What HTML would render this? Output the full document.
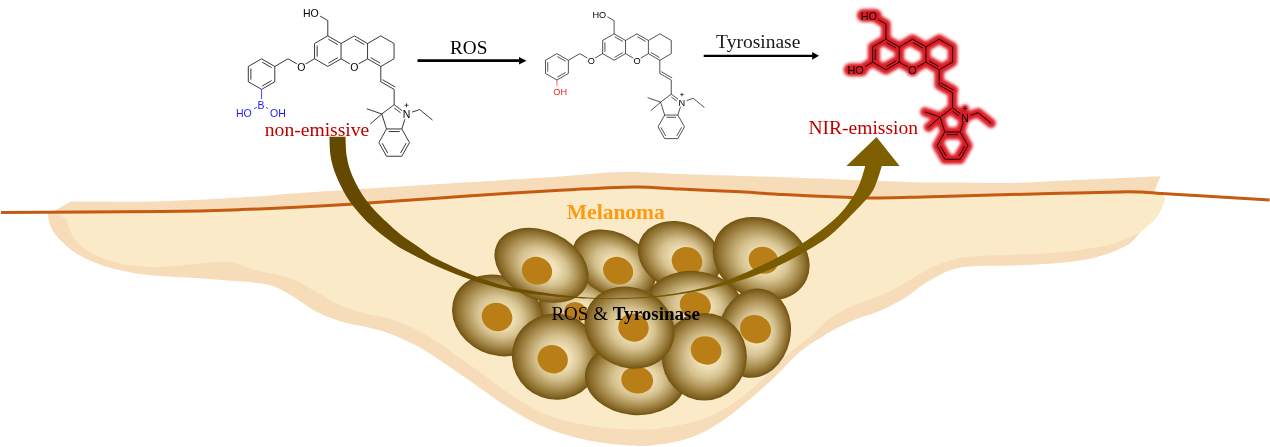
<!DOCTYPE html>
<html><head><meta charset="utf-8"><title>Melanoma probe scheme</title>
<style>html,body{margin:0;padding:0;background:#fff;overflow:hidden}svg{display:block;will-change:transform}</style></head>
<body>
<svg width="1270" height="447" viewBox="0 0 1270 447" font-family="Liberation Sans, sans-serif">
<defs>
<radialGradient id="cg" cx="50%" cy="50%" r="50%" fx="56%" fy="50%">
<stop offset="0" stop-color="#f6ebc9"/><stop offset="0.25" stop-color="#efe0b6"/><stop offset="0.5" stop-color="#d6c290"/><stop offset="0.75" stop-color="#a98e50"/><stop offset="0.9" stop-color="#8a6c2c"/><stop offset="1" stop-color="#71530f"/>
</radialGradient>
<linearGradient id="ag" gradientUnits="userSpaceOnUse" x1="330" y1="0" x2="900" y2="0"><stop offset="0" stop-color="#644800"/><stop offset="0.45" stop-color="#6f5300"/><stop offset="1" stop-color="#7f6000"/></linearGradient>
<filter id="glow" x="-10%" y="-10%" width="120%" height="120%"><feGaussianBlur stdDeviation="1.5"/></filter>
</defs>
<rect width="1270" height="447" fill="#fff"/>
<path d="M55.3 210.3 L70.8 201.6 C86.2 201.5 131.5 202.1 163.0 201.2 C194.5 200.3 237.2 197.6 260.0 196.2 C282.8 194.8 265.5 195.3 300.0 193.0 C334.5 190.7 423.7 185.1 467.0 182.3 C510.3 179.6 534.1 178.2 560.0 176.5 C585.9 174.8 602.4 172.5 622.4 172.1 C642.4 171.7 653.1 173.1 680.0 174.0 C706.9 174.9 751.7 176.2 784.0 177.3 C816.3 178.4 850.9 179.9 874.0 180.8 C897.1 181.7 908.3 182.2 922.6 182.5 C936.9 182.8 945.6 182.4 960.0 182.5 C974.4 182.6 988.5 183.4 1009.0 183.0 C1029.5 182.6 1064.5 180.6 1083.0 179.8 C1101.5 179.0 1107.1 178.6 1120.0 178.0 C1132.9 177.4 1153.8 176.5 1160.5 176.2 L1154.4 191 C1156.0 192.0 1162.8 194.8 1164.2 197.0 C1165.6 199.2 1164.2 201.1 1163.0 204.4 C1161.8 207.7 1159.6 213.1 1156.9 216.8 C1154.2 220.5 1149.5 224.3 1147.0 226.6 C1144.5 228.8 1144.5 227.8 1142.0 230.3 C1139.5 232.8 1135.9 238.3 1132.2 241.4 C1128.5 244.5 1126.2 246.0 1120.0 248.7 C1113.8 251.4 1105.6 255.0 1095.3 257.4 C1085.0 259.8 1072.8 261.6 1058.4 263.0 C1044.1 264.4 1022.8 265.0 1009.2 265.5 C995.6 266.0 986.3 265.3 976.8 266.0 C967.3 266.7 960.4 266.9 952.2 269.5 C944.0 272.1 935.8 276.9 927.6 281.8 C919.4 286.7 911.2 294.1 903.0 299.0 C894.8 303.9 886.6 307.9 878.4 311.4 C870.2 314.9 862.0 316.5 853.8 320.0 C845.6 323.5 834.5 329.5 829.2 332.3 C823.9 335.1 826.9 333.8 822.0 337.0 C817.1 340.2 807.8 345.2 800.0 351.8 C792.2 358.4 783.5 368.6 775.3 376.4 C767.1 384.2 758.9 391.5 750.7 398.5 C742.5 405.5 734.3 412.4 726.1 418.2 C717.9 423.9 709.7 429.1 701.5 433.0 C693.3 436.9 685.1 439.6 676.9 441.6 C668.7 443.7 658.4 444.6 652.3 445.3 C646.1 446.0 644.2 446.0 640.0 446.0 C635.8 446.0 633.1 445.8 626.8 445.3 C620.5 444.8 610.4 444.0 602.2 442.8 C594.0 441.6 585.8 439.9 577.6 437.9 C569.4 435.8 561.2 433.6 553.0 430.5 C544.8 427.4 536.6 423.7 528.4 419.4 C520.2 415.1 512.0 410.0 503.8 404.7 C495.6 399.4 487.4 393.1 479.2 387.4 C471.0 381.6 462.5 375.6 454.6 370.2 C446.7 364.8 438.7 359.2 432.0 355.0 C425.3 350.8 421.6 348.2 414.6 344.7 C407.6 341.1 398.2 336.7 390.0 333.7 C381.8 330.7 373.5 328.9 365.3 326.8 C357.1 324.8 348.9 323.9 340.7 321.4 C332.5 318.8 324.3 315.8 316.1 311.5 C307.9 307.2 298.9 299.8 291.5 295.5 C284.1 291.2 277.9 287.8 271.8 285.7 C265.7 283.6 260.4 283.5 254.6 282.7 C248.8 281.9 244.0 281.7 236.9 281.1 C229.8 280.5 220.4 279.8 212.2 279.2 C204.0 278.6 195.8 277.9 187.6 277.4 C179.4 276.9 171.2 276.8 163.0 276.2 C154.8 275.6 146.6 274.9 138.4 273.7 C130.2 272.5 122.0 271.1 113.8 268.8 C105.6 266.6 96.2 263.3 89.2 260.2 C82.2 257.1 77.3 254.3 72.0 250.4 C66.7 246.5 60.9 241.1 57.2 236.8 C53.5 232.5 51.3 228.2 49.8 224.5 C48.3 220.8 48.3 216.8 48.1 214.7 C47.9 212.6 48.4 212.4 48.4 212.0 Z" fill="#f7dcba"/>
<path d="M55.3 212.4 L67 219.6 C67.4 221.2 67.8 225.7 69.5 229.4 C71.2 233.1 73.6 238.1 76.9 241.8 C80.2 245.5 84.3 248.7 89.2 251.6 C94.1 254.5 100.2 257.4 106.4 259.5 C112.6 261.6 118.7 263.2 126.1 264.4 C133.5 265.6 142.5 266.6 150.7 266.9 C158.9 267.1 167.1 266.5 175.3 265.9 C183.5 265.3 191.8 264.1 200.0 263.4 C208.2 262.6 220.4 261.7 224.5 261.4 C226.6 261.7 231.9 262.0 236.9 263.4 C241.9 264.8 247.6 267.7 254.6 269.7 C261.6 271.7 272.2 273.4 279.2 275.3 C286.2 277.2 290.2 278.1 296.4 280.8 C302.5 283.6 308.7 287.7 316.1 291.8 C323.5 295.9 332.5 301.8 340.7 305.4 C348.9 309.0 357.1 311.2 365.3 313.5 C373.5 315.8 381.8 316.4 390.0 318.9 C398.2 321.4 406.4 324.7 414.6 328.7 C422.8 332.7 432.5 338.6 439.2 342.8 C445.9 347.1 447.9 349.4 454.6 354.2 C461.3 359.0 471.0 365.4 479.2 371.4 C487.4 377.3 495.6 384.1 503.8 389.9 C512.0 395.6 520.2 401.4 528.4 405.9 C536.6 410.4 544.8 414.1 553.0 417.0 C561.2 419.9 569.4 421.8 577.6 423.6 C585.8 425.4 594.0 426.7 602.2 427.6 C610.4 428.6 618.8 429.0 626.8 429.3 C634.8 429.6 643.7 429.8 650.0 429.5 C656.3 429.2 658.1 428.7 664.6 427.6 C671.1 426.5 681.0 425.3 689.2 423.1 C697.4 420.9 705.6 418.4 713.8 414.5 C722.0 410.6 730.2 405.6 738.4 399.7 C746.6 393.8 754.8 386.4 763.0 378.8 C771.2 371.2 779.8 361.2 787.6 354.2 C795.4 347.2 802.9 342.9 809.8 337.0 C816.7 331.1 821.9 324.0 829.2 318.7 C836.5 313.4 845.6 308.9 853.8 305.2 C862.0 301.5 870.2 300.1 878.4 296.6 C886.6 293.1 894.8 288.8 903.0 284.3 C911.2 279.8 919.4 273.6 927.6 269.5 C935.8 265.4 944.0 261.9 952.2 259.7 C960.4 257.4 967.3 256.8 976.8 256.0 C986.3 255.2 995.6 255.5 1009.2 254.9 C1022.8 254.3 1044.1 253.6 1058.4 252.4 C1072.8 251.2 1085.0 249.3 1095.3 247.5 C1105.6 245.7 1113.0 243.7 1120.0 241.4 C1127.0 239.1 1132.7 236.0 1137.2 233.5 C1141.7 231.0 1143.7 229.4 1147.0 226.6 C1150.3 223.8 1154.2 220.5 1156.9 216.8 C1159.6 213.1 1161.8 207.7 1163.0 204.4 C1164.2 201.1 1165.6 199.2 1164.2 197.0 C1162.8 194.8 1156.0 192.0 1154.4 191.0 L1141.0 192.1 L1120.0 191.9 L1060.0 193.3 L992.0 195.0 L922.6 197.0 L874.0 198.1 L846.0 197.3 L784.0 194.6 L740.0 191.8 L680.0 189.0 L637.5 187.1 L600.0 188.2 L560.0 190.2 L467.7 196.0 L400.0 200.8 L320.0 206.0 L241.6 209.6 L161.0 211.5 Z" fill="#fbeac8"/>
<path d="M1 212.4 C27.7 212.2 120.9 212.0 161.0 211.5 C201.1 211.0 215.1 210.5 241.6 209.6 C268.1 208.7 293.6 207.5 320.0 206.0 C346.4 204.5 375.4 202.5 400.0 200.8 C424.6 199.1 441.0 197.8 467.7 196.0 C494.4 194.2 538.0 191.5 560.0 190.2 C582.0 188.9 587.1 188.7 600.0 188.2 C612.9 187.7 624.2 187.0 637.5 187.1 C650.8 187.2 662.9 188.2 680.0 189.0 C697.1 189.8 722.7 190.9 740.0 191.8 C757.3 192.7 766.3 193.7 784.0 194.6 C801.7 195.5 831.0 196.7 846.0 197.3 C861.0 197.9 861.2 198.2 874.0 198.1 C886.8 198.0 902.9 197.5 922.6 197.0 C942.3 196.5 969.1 195.6 992.0 195.0 C1014.9 194.4 1038.7 193.8 1060.0 193.3 C1081.3 192.8 1106.5 192.1 1120.0 191.9 C1133.5 191.7 1134.8 191.9 1141.0 192.1 C1147.2 192.3 1146.5 192.5 1157.0 193.2 C1167.5 193.8 1185.2 194.9 1204.0 196.0 C1222.8 197.1 1258.7 199.3 1269.6 200.0" fill="none" stroke="#c55a11" stroke-width="3"/>
<g><ellipse cx="580" cy="310" rx="42" ry="34" transform="rotate(20 580 310)" fill="url(#cg)"/><ellipse cx="575.5" cy="312" rx="11.5" ry="10" transform="rotate(10 575.5 312)" fill="#b97f16"/></g>
<g><ellipse cx="498" cy="315.4" rx="47.3" ry="39.5" transform="rotate(25 498 315.4)" fill="url(#cg)"/><ellipse cx="497" cy="317" rx="15.5" ry="14" transform="rotate(20 497 317)" fill="#b97f16"/></g>
<g><ellipse cx="614" cy="264.5" rx="45" ry="31" transform="rotate(30 614 264.5)" fill="url(#cg)"/><ellipse cx="618.1" cy="270.7" rx="15.3" ry="13.5" transform="rotate(25 618.1 270.7)" fill="#b97f16"/></g>
<g><ellipse cx="541.5" cy="265.3" rx="49.4" ry="34.4" transform="rotate(25 541.5 265.3)" fill="url(#cg)"/><ellipse cx="537" cy="270.8" rx="15.3" ry="13.7" transform="rotate(20 537 270.8)" fill="#b97f16"/></g>
<g><ellipse cx="679.8" cy="256.2" rx="43" ry="33.8" transform="rotate(22 679.8 256.2)" fill="url(#cg)"/><ellipse cx="687" cy="261.2" rx="15.5" ry="14" transform="rotate(20 687 261.2)" fill="#b97f16"/></g>
<g><ellipse cx="694.5" cy="306" rx="48.5" ry="35" transform="rotate(6 694.5 306)" fill="url(#cg)"/><ellipse cx="695.3" cy="305.3" rx="15.7" ry="13.3" transform="rotate(15 695.3 305.3)" fill="#b97f16"/></g>
<g><ellipse cx="761.2" cy="258.8" rx="50" ry="40" transform="rotate(24.5 761.2 258.8)" fill="url(#cg)"/><ellipse cx="763.5" cy="260.3" rx="15" ry="13.3" transform="rotate(20 763.5 260.3)" fill="#b97f16"/></g>
<g><ellipse cx="555.8" cy="356.6" rx="44" ry="43" transform="rotate(20 555.8 356.6)" fill="url(#cg)"/><ellipse cx="552.7" cy="359.2" rx="15.3" ry="14" transform="rotate(20 552.7 359.2)" fill="#b97f16"/></g>
<g><ellipse cx="635.3" cy="378.3" rx="50.5" ry="36.8" transform="rotate(5 635.3 378.3)" fill="url(#cg)"/><ellipse cx="637.2" cy="380" rx="16" ry="13.5" transform="rotate(10 637.2 380)" fill="#b97f16"/></g>
<g><ellipse cx="754.3" cy="333.2" rx="36.3" ry="45" transform="rotate(12 754.3 333.2)" fill="url(#cg)"/><ellipse cx="755.5" cy="329.2" rx="15.7" ry="14" transform="rotate(20 755.5 329.2)" fill="#b97f16"/></g>
<g><ellipse cx="704.3" cy="356.7" rx="42.6" ry="43.8" transform="rotate(0 704.3 356.7)" fill="url(#cg)"/><ellipse cx="706.1" cy="350.4" rx="15.5" ry="14" transform="rotate(20 706.1 350.4)" fill="#b97f16"/></g>
<g><ellipse cx="629.5" cy="327.6" rx="46" ry="40" transform="rotate(25 629.5 327.6)" fill="url(#cg)"/><ellipse cx="633.5" cy="327.6" rx="15.3" ry="14" transform="rotate(15 633.5 327.6)" fill="#b97f16"/></g>
<path d="M345.5 136.7 C345.7 140.0 345.7 150.3 346.8 156.8 C347.9 163.3 349.5 169.1 352.2 175.6 C354.9 182.1 359.4 190.2 363.0 195.8 C366.6 201.4 369.7 204.7 373.7 209.2 C377.7 213.7 382.6 218.4 387.1 222.6 C391.6 226.8 395.1 230.3 400.5 234.5 C405.9 238.7 413.4 243.5 419.3 247.5 C425.2 251.5 427.1 254.1 435.8 258.6 C444.5 263.1 459.7 270.1 471.6 274.7 C483.5 279.3 495.5 283.4 507.4 286.4 C519.3 289.4 534.4 291.2 543.2 292.6 C552.0 294.0 550.9 294.1 560.0 295.0 C569.1 295.9 585.2 297.5 597.8 297.9 C610.4 298.3 623.0 298.2 635.6 297.5 C648.2 296.8 660.8 295.7 673.4 293.7 C686.0 291.7 700.1 288.8 711.2 285.7 C722.3 282.6 731.5 278.4 740.0 275.0 C748.5 271.6 754.9 268.6 762.4 265.0 C769.9 261.4 777.2 257.8 784.7 253.7 C792.2 249.6 799.6 245.3 807.1 240.3 C814.6 235.3 823.2 228.9 829.5 223.5 C835.8 218.1 840.6 213.5 845.1 207.9 C849.6 202.3 854.0 195.2 856.8 190.0 C859.6 184.8 860.6 181.0 862.0 177.0 C863.4 173.0 864.7 167.8 865.2 166.0 L846.4 166 L876.5 136.9 L899.6 166 L881.8 166 C881.0 168.5 878.9 176.2 877.0 181.0 C875.1 185.8 874.5 188.9 870.3 194.5 C866.1 200.1 858.6 207.7 851.8 214.6 C845.0 221.5 837.0 229.9 829.5 235.9 C822.0 241.9 814.6 245.9 807.1 250.4 C799.6 254.9 792.2 259.0 784.7 262.7 C777.2 266.4 769.9 269.8 762.4 272.8 C754.9 275.8 748.5 278.0 740.0 280.6 C731.5 283.2 722.3 286.2 711.2 288.6 C700.1 291.0 686.0 293.5 673.4 295.2 C660.8 296.9 648.2 298.0 635.6 298.6 C623.0 299.2 610.4 299.2 597.8 298.9 C585.2 298.6 569.1 297.5 560.0 296.9 C550.9 296.3 552.0 296.4 543.2 295.3 C534.4 294.2 519.3 292.6 507.4 290.0 C495.5 287.4 483.5 284.0 471.6 280.0 C459.7 276.0 447.2 270.9 435.8 265.8 C424.4 260.7 411.3 254.0 403.2 249.5 C395.1 245.0 392.0 242.3 387.1 238.7 C382.2 235.1 378.2 232.0 373.7 228.0 C369.2 224.0 364.8 219.8 360.3 214.6 C355.8 209.4 350.8 203.6 346.8 197.1 C342.8 190.6 338.8 182.3 336.1 175.6 C333.4 168.9 331.8 163.3 330.7 156.8 C329.6 150.3 329.6 140.0 329.4 136.7 Z" fill="url(#ag)"/>
<g font-family="Liberation Serif, serif">
<text x="566.8" y="218.6" font-size="21" font-weight="bold" fill="#fd9a12" textLength="98" lengthAdjust="spacingAndGlyphs">Melanoma</text>
<text x="551.4" y="319.6" font-size="19.4" fill="#000" textLength="148.6" lengthAdjust="spacingAndGlyphs">ROS &amp; <tspan font-weight="bold">Tyrosinase</tspan></text>
<text x="264.8" y="135.5" font-size="19.4" fill="#c00000" textLength="104.5" lengthAdjust="spacingAndGlyphs">non-emissive</text>
<text x="808.4" y="134" font-size="19.2" fill="#c00000" textLength="109.6" lengthAdjust="spacingAndGlyphs">NIR-emission</text>
<text x="450" y="54.3" font-size="19.2" fill="#000" textLength="37.4" lengthAdjust="spacingAndGlyphs">ROS</text>
<text x="716.1" y="48" font-size="18.9" fill="#1a1a1a" textLength="84.2" lengthAdjust="spacingAndGlyphs">Tyrosinase</text>
</g>
<path d="M417.5 60.7H520" stroke="#000" stroke-width="2.8"/><path d="M526.5 60.7L519 57V64.4Z" fill="#000"/>
<path d="M703.7 55.8H813" stroke="#000" stroke-width="2.2"/><path d="M819 55.8L812.2 52V59.7Z" fill="#000"/>
<path fill="none" stroke="#000" stroke-width="0.78" stroke-linecap="butt" d="M327.80 35.85L341.05 43.50 M328.35 39.17L337.89 44.68 M341.05 43.50L341.05 58.80 M341.05 58.80L327.80 66.45 M337.89 57.62L328.35 63.13 M327.80 66.45L314.55 58.80 M314.55 58.80L314.55 43.50 M317.15 56.66L317.15 45.64 M314.55 43.50L327.80 35.85 M341.05 43.50L354.30 35.85 M354.30 35.85L367.55 43.50 M354.85 39.17L364.40 44.68 M367.55 43.50L367.55 58.80 M367.55 58.80L358.67 63.93 M349.93 63.93L341.05 58.80 M367.55 43.50L380.80 35.85 M380.80 35.85L394.05 43.50 M394.05 43.50L394.05 58.80 M394.05 58.80L380.80 66.45 M380.80 66.45L367.55 58.80 M380.25 63.13L370.71 57.62 M327.80 35.85L327.80 20.55 M327.80 20.55L320.11 16.11 M380.80 66.45L380.80 81.75 M380.80 81.75L394.15 89.40 M382.36 79.65L395.18 86.99 M394.15 89.40L394.15 104.70 M394.15 104.70L402.12 110.66 M394.31 108.07L400.56 112.74 M404.87 119.21L401.80 128.95 M401.80 128.95L386.50 128.95 M399.66 131.55L388.64 131.55 M386.50 128.95L381.77 113.96 M381.77 113.96L394.15 104.70 M401.80 128.95L409.45 142.60 M409.45 142.60L401.80 156.24 M406.13 143.19L400.58 153.10 M401.80 156.24L386.50 156.24 M386.50 156.24L378.85 142.60 M387.72 153.10L382.17 143.19 M378.85 142.60L386.50 128.95 M381.77 113.96L366.78 108.76 M381.77 113.96L370.30 124.05 M412.04 112.11L419.69 109.55 M419.69 109.55L432.54 120.11 M314.55 58.80L305.67 63.93 M296.93 63.93L288.05 58.80 M288.05 58.80L274.80 66.45 M274.80 66.45L261.55 58.80 M271.64 67.63L262.10 62.12 M261.55 58.80L248.30 66.45 M248.30 66.45L248.30 81.75 M250.90 68.59L250.90 79.61 M248.30 81.75L261.55 89.40 M261.55 89.40L274.80 81.75 M262.10 86.08L271.64 80.57 M274.80 81.75L274.80 66.45"/>
<path fill="none" stroke="#1a1aff" stroke-width="0.78" stroke-linecap="butt" d="M261.55 89.40L261.55 99.19 M256.97 107.17L253.88 108.85 M266.02 107.35L268.13 108.61"/>
<text x="354.30" y="70.93" font-size="10.5" text-anchor="middle" fill="#000">O</text>
<text x="406.53" y="118.44" font-size="10.5" text-anchor="middle" fill="#000">N</text>
<text x="318.64" y="17.38" font-size="10.5" text-anchor="end" fill="#000">HO</text>
<text x="301.30" y="70.93" font-size="10.5" text-anchor="middle" fill="#000">O</text>
<text x="260.95" y="109.18" font-size="10.5" text-anchor="middle" fill="#1a1aff">B</text>
<text x="251.78" y="116.68" font-size="10.5" text-anchor="end" fill="#1a1aff">HO</text>
<text x="270.09" y="116.68" font-size="10.5" text-anchor="start" fill="#1a1aff">OH</text>
<path stroke="#000" stroke-width="0.7" d="M404.54 105.24L408.52 105.24M406.53 103.25L406.53 107.23"/>
<path fill="none" stroke="#000" stroke-width="0.68" stroke-linecap="butt" d="M614.10 33.85L625.53 40.45 M614.58 36.72L622.81 41.47 M625.53 40.45L625.53 53.65 M625.53 53.65L614.10 60.25 M622.81 52.63L614.58 57.38 M614.10 60.25L602.67 53.65 M602.67 53.65L602.67 40.45 M604.91 51.80L604.91 42.30 M602.67 40.45L614.10 33.85 M625.53 40.45L636.96 33.85 M636.96 33.85L648.39 40.45 M637.44 36.72L645.67 41.47 M648.39 40.45L648.39 53.65 M648.39 53.65L640.74 58.07 M633.19 58.07L625.53 53.65 M648.39 40.45L659.83 33.85 M659.83 33.85L671.26 40.45 M671.26 40.45L671.26 53.65 M671.26 53.65L659.83 60.25 M659.83 60.25L648.39 53.65 M659.35 57.38L651.12 52.63 M614.10 33.85L614.10 20.65 M614.10 20.65L607.47 16.82 M659.83 60.25L659.83 73.45 M659.83 73.45L671.26 80.05 M661.18 71.64L672.15 77.97 M671.26 80.05L671.26 94.15 M671.26 94.15L678.13 99.29 M671.39 97.05L676.79 101.09 M680.51 106.67L677.86 115.07 M677.86 115.07L664.66 115.07 M676.01 117.31L666.51 117.31 M664.66 115.07L660.58 102.14 M660.58 102.14L671.26 94.15 M677.86 115.07L684.46 126.84 M684.46 126.84L677.86 138.62 M681.60 127.36L676.80 135.91 M677.86 138.62L664.66 138.62 M664.66 138.62L658.06 126.84 M665.71 135.91L660.92 127.36 M658.06 126.84L664.66 115.07 M660.58 102.14L647.64 97.65 M660.58 102.14L650.68 110.84 M686.69 100.55L693.29 98.33 M693.29 98.33L704.38 107.44 M602.67 53.65L595.01 58.07 M587.46 58.07L579.81 53.65 M579.81 53.65L568.37 60.25 M568.37 60.25L556.94 53.65 M565.65 61.27L557.42 56.52 M556.94 53.65L545.51 60.25 M545.51 60.25L545.51 73.45 M547.75 62.10L547.75 71.60 M545.51 73.45L556.94 80.05 M556.94 80.05L568.37 73.45 M557.42 77.18L565.65 72.43 M568.37 73.45L568.37 60.25"/>
<path fill="none" stroke="#ff1a1a" stroke-width="0.68" stroke-linecap="butt" d="M556.94 80.05L556.94 85.99"/>
<text x="636.96" y="63.76" font-size="9.2" text-anchor="middle" fill="#000">O</text>
<text x="681.94" y="105.65" font-size="9.2" text-anchor="middle" fill="#000">N</text>
<text x="606.26" y="17.56" font-size="9.2" text-anchor="end" fill="#000">HO</text>
<text x="591.24" y="63.76" font-size="9.2" text-anchor="middle" fill="#000">O</text>
<text x="553.35" y="95.05" font-size="9.2" text-anchor="start" fill="#ff1a1a">OH</text>
<path stroke="#000" stroke-width="0.7" d="M680.22 94.62L683.65 94.62M681.94 92.90L681.94 96.33"/>
<g transform="translate(-8.1,0) scale(1.0085,1)"><g filter="url(#glow)" stroke="#db1c28" fill="none" stroke-linecap="round" stroke-linejoin="round">
<path stroke-width="9.6" d="M886.50 39.25L899.71 46.88 M887.05 42.56L896.56 48.05 M899.71 46.88L899.71 62.12 M899.71 62.12L886.50 69.75 M896.56 60.95L887.05 66.44 M886.50 69.75L873.29 62.12 M873.29 62.12L873.29 46.88 M875.89 59.99L875.89 49.01 M873.29 46.88L886.50 39.25 M899.71 46.88L912.91 39.25 M912.91 39.25L926.12 46.88 M913.47 42.56L922.98 48.05 M926.12 46.88L926.12 62.12 M926.12 62.12L917.27 67.23 M908.56 67.23L899.71 62.12 M926.12 46.88L939.33 39.25 M939.33 39.25L952.53 46.88 M952.53 46.88L952.53 62.12 M952.53 62.12L939.33 69.75 M939.33 69.75L926.12 62.12 M938.77 66.44L929.27 60.95 M886.50 39.25L886.50 24.00 M886.50 24.00L878.84 19.58 M939.33 69.75L939.33 85.00 M939.33 85.00L952.53 92.62 M940.89 82.91L953.57 90.23 M952.53 92.62L952.53 107.88 M952.53 107.88L960.48 113.82 M952.69 111.23L958.92 115.89 M963.22 122.34L960.16 132.04 M960.16 132.04L944.91 132.04 M958.02 134.64L947.04 134.64 M944.91 132.04L940.20 117.11 M940.20 117.11L952.53 107.88 M960.16 132.04L967.78 145.65 M967.78 145.65L960.16 159.25 M964.48 146.24L958.94 156.12 M960.16 159.25L944.91 159.25 M944.91 159.25L937.28 145.65 M946.13 156.12L940.59 146.24 M937.28 145.65L944.91 132.04 M940.20 117.11L925.25 111.92 M940.20 117.11L928.76 127.16 M970.37 115.26L977.99 112.71 M977.99 112.71L990.80 123.23 M873.29 62.12L866.16 66.24"/>
<path stroke-width="13" d="M912.91 69.75L912.92 69.75"/>
<path stroke-width="13" d="M964.87 117.11L964.88 117.11"/>
<path stroke-width="13" d="M864.15 15.38L875.72 15.38"/>
<path stroke-width="13" d="M850.95 69.75L862.51 69.75"/>
<path stroke-width="8" d="M964.87 108.41l0.01 0"/>
</g>
<path fill="none" stroke="#000" stroke-width="0.88" stroke-linecap="butt" d="M886.50 39.25L899.71 46.88 M887.05 42.56L896.56 48.05 M899.71 46.88L899.71 62.12 M899.71 62.12L886.50 69.75 M896.56 60.95L887.05 66.44 M886.50 69.75L873.29 62.12 M873.29 62.12L873.29 46.88 M875.89 59.99L875.89 49.01 M873.29 46.88L886.50 39.25 M899.71 46.88L912.91 39.25 M912.91 39.25L926.12 46.88 M913.47 42.56L922.98 48.05 M926.12 46.88L926.12 62.12 M926.12 62.12L917.27 67.23 M908.56 67.23L899.71 62.12 M926.12 46.88L939.33 39.25 M939.33 39.25L952.53 46.88 M952.53 46.88L952.53 62.12 M952.53 62.12L939.33 69.75 M939.33 69.75L926.12 62.12 M938.77 66.44L929.27 60.95 M886.50 39.25L886.50 24.00 M886.50 24.00L878.84 19.58 M939.33 69.75L939.33 85.00 M939.33 85.00L952.53 92.62 M940.89 82.91L953.57 90.23 M952.53 92.62L952.53 107.88 M952.53 107.88L960.48 113.82 M952.69 111.23L958.92 115.89 M963.22 122.34L960.16 132.04 M960.16 132.04L944.91 132.04 M958.02 134.64L947.04 134.64 M944.91 132.04L940.20 117.11 M940.20 117.11L952.53 107.88 M960.16 132.04L967.78 145.65 M967.78 145.65L960.16 159.25 M964.48 146.24L958.94 156.12 M960.16 159.25L944.91 159.25 M944.91 159.25L937.28 145.65 M946.13 156.12L940.59 146.24 M937.28 145.65L944.91 132.04 M940.20 117.11L925.25 111.92 M940.20 117.11L928.76 127.16 M970.37 115.26L977.99 112.71 M977.99 112.71L990.80 123.23 M873.29 62.12L866.16 66.24"/>
<text x="912.91" y="74.34" font-size="10.8" text-anchor="middle" fill="#000">O</text>
<text x="964.87" y="121.69" font-size="10.8" text-anchor="middle" fill="#000">N</text>
<text x="877.71" y="19.96" font-size="10.8" text-anchor="end" fill="#000">HO</text>
<text x="864.50" y="74.34" font-size="10.8" text-anchor="end" fill="#000">HO</text>
<path stroke="#000" stroke-width="0.7" d="M962.89 108.41L966.85 108.41M964.87 106.43L964.87 110.40"/></g>
</svg>
</body></html>
